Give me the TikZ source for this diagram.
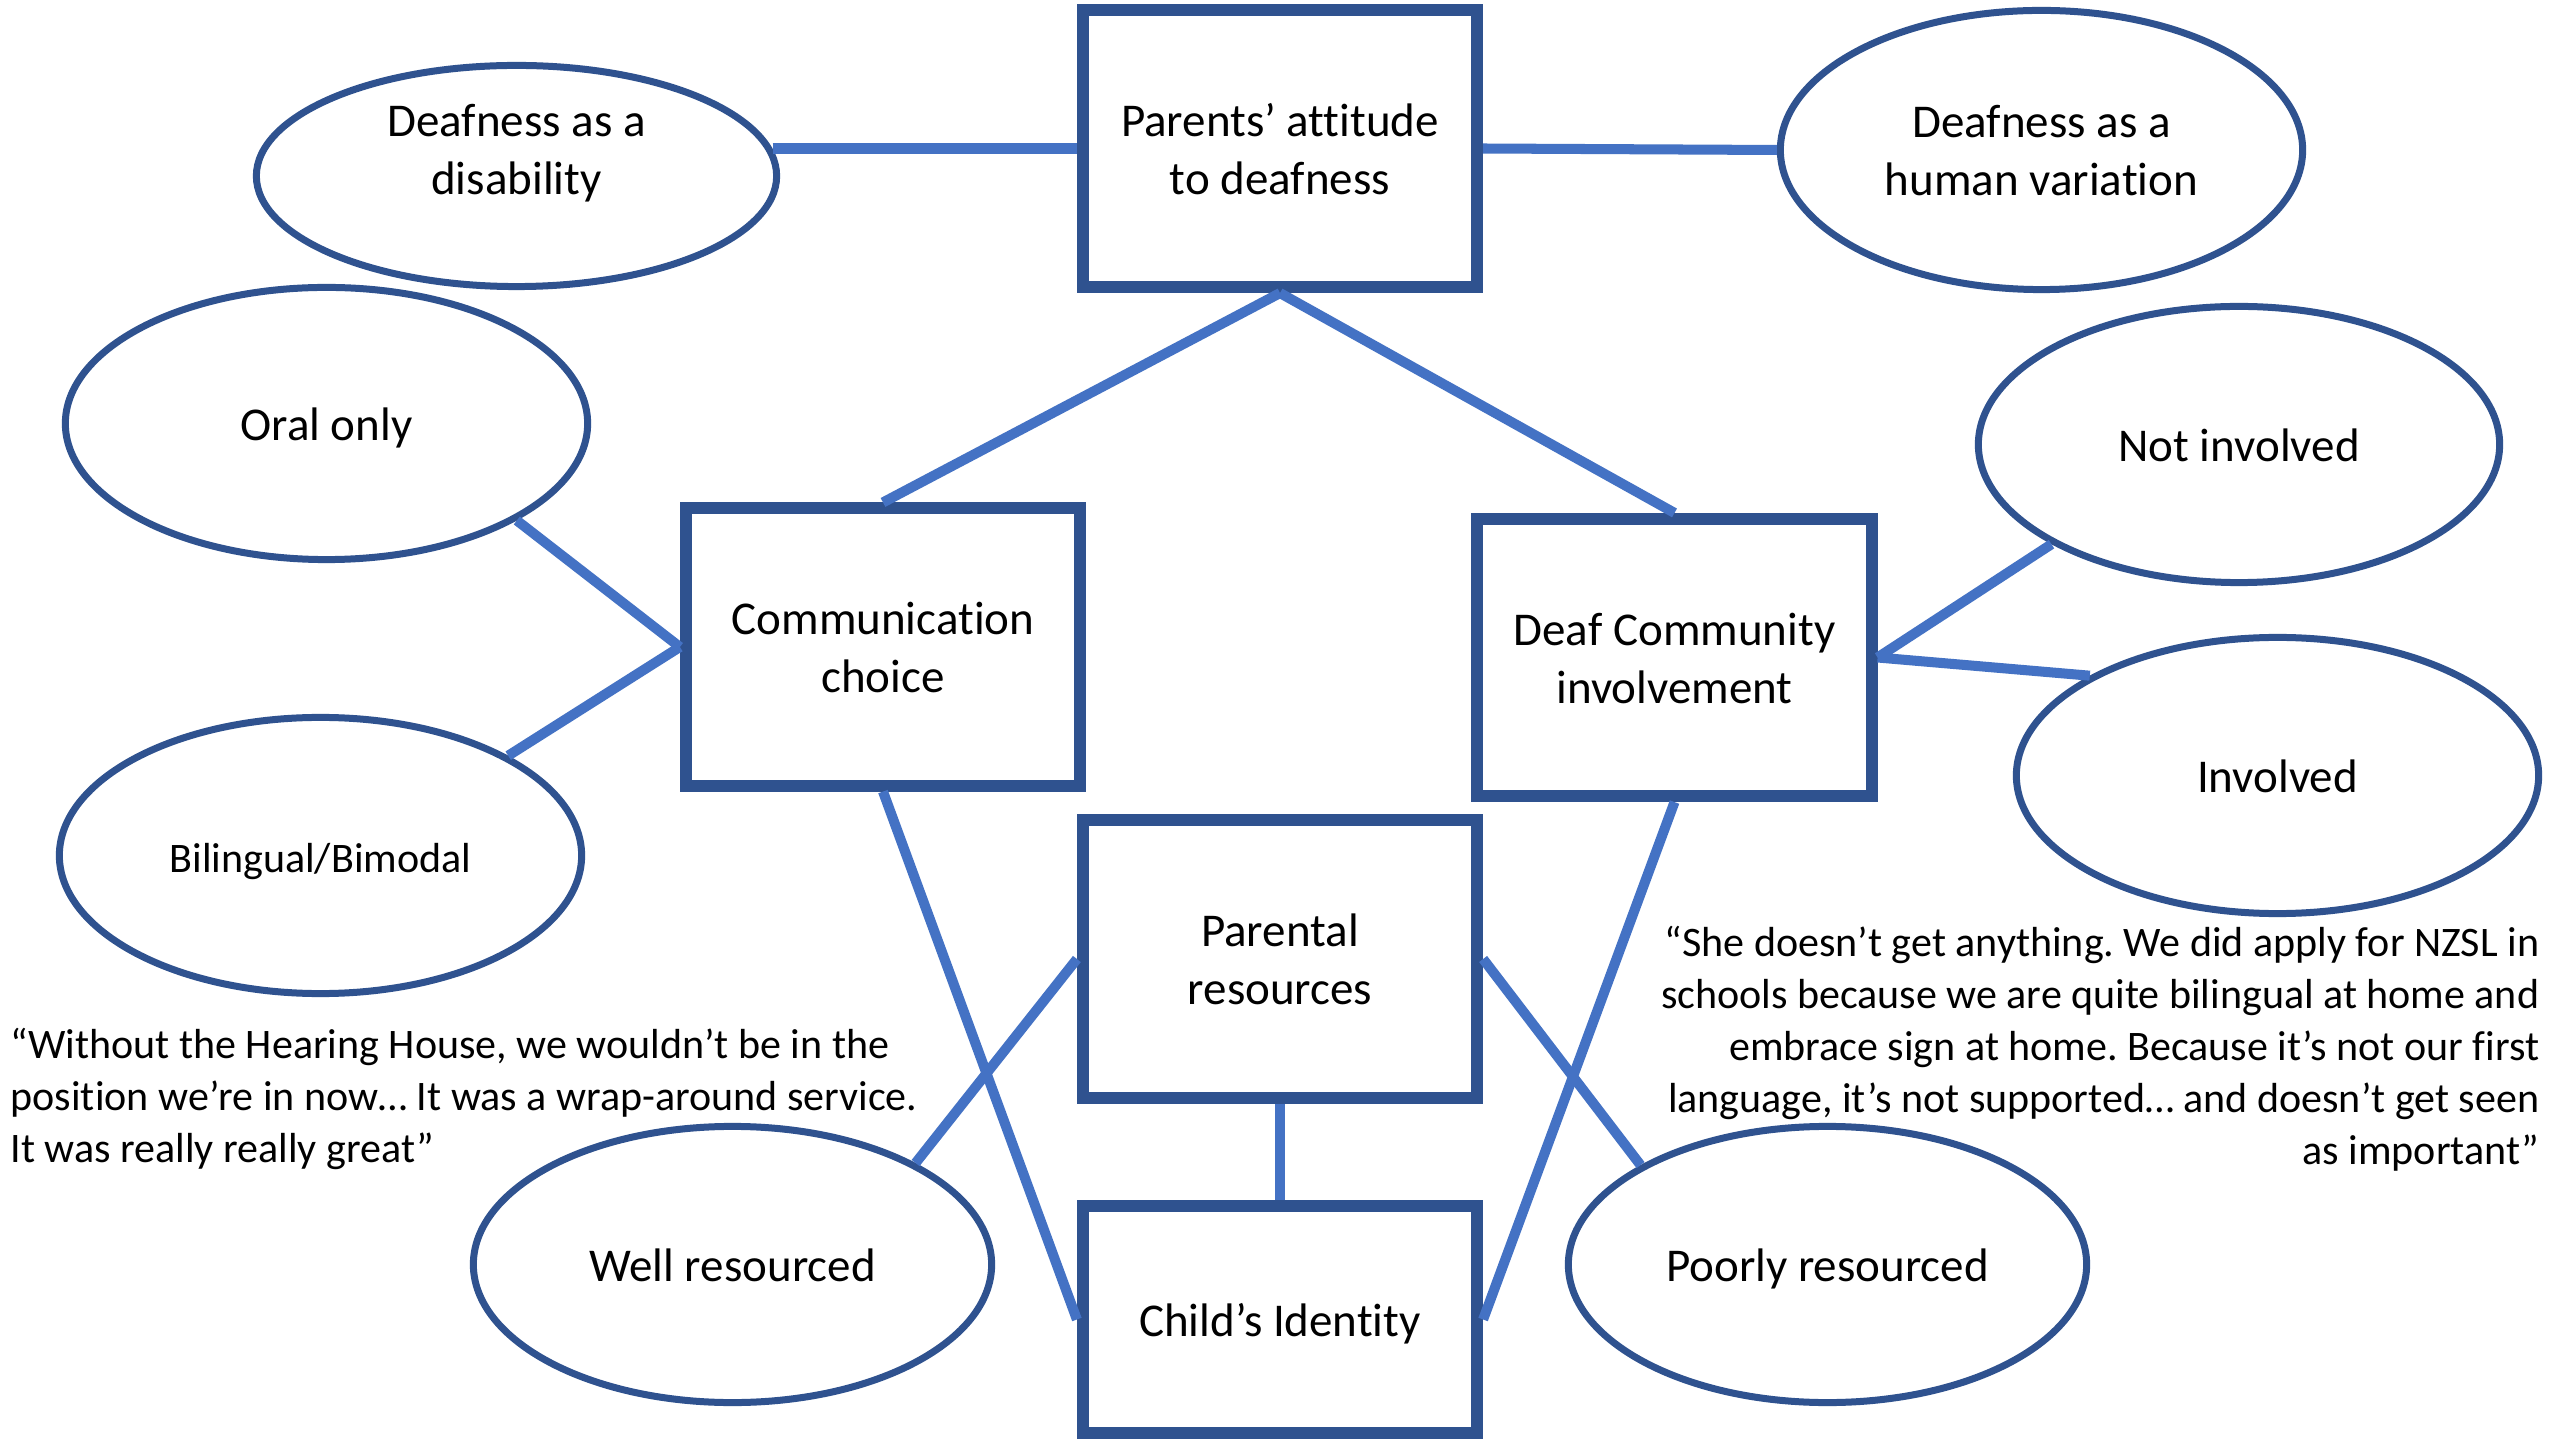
\documentclass[tikz,border=0pt]{standalone}
\usepackage{fontspec}
\setmainfont{Carlito}[Ligatures=NoCommon]
\usetikzlibrary{shapes.geometric}
\frenchspacing

\definecolor{edgeblue}{HTML}{2F528F}
\definecolor{linkblue}{HTML}{4472C4}

\newcommand\mainsize{\fontsize{13.37pt}{16.5pt}\selectfont}
\newcommand\quotesize{\fontsize{11.95pt}{14.8pt}\selectfont}
% fixed line box for labels: height on the first line, depth on the last
\newcommand\topline{\vrule height 14.4pt depth 0pt width 0pt}
\newcommand\botline{\vrule height 0pt depth 4.95pt width 0pt}

\tikzset{
  every node/.style={inner sep=0pt},
  concept/.style={rectangle, draw=edgeblue, fill=white, line width=3.41pt,
    minimum width=3.94cm, minimum height=2.77cm, align=center, font=\mainsize},
  oval/.style={ellipse, draw=edgeblue, fill=white, line width=1.99pt,
    minimum width=5.22cm, minimum height=2.76cm, align=center, font=\mainsize},
  link/.style={draw=linkblue, line width=2.85pt},
  quote/.style={font=\quotesize},
}

\begin{document}
\begin{tikzpicture}[x=0.01cm, y=-0.01cm]
  % page frame
  \fill[white] (0,0) rectangle (2560,1440);
  \useasboundingbox (0,0) rectangle (2560,1440);

  % central factors
  \node[concept] (parents) at (1280,148.5) {\topline Parents’ attitude\\to deafness\botline};
  \node[concept] (comm) at (883,647) {\topline Communication\\choice\botline};
  \node[concept] (deaf) at (1674.5,657.5) {\topline Deaf Community\\involvement\botline};
  \node[concept, minimum height=2.78cm] (res) at (1280,959) {\topline Parental\\resources\botline};
  \node[concept, minimum height=2.27cm] (child) at (1280,1319.5) {\topline Child’s Identity\botline};

  % options around each factor
  \node[oval, minimum width=5.20cm, minimum height=2.21cm] (dis) at (516.5,176) {};
  \node[font=\mainsize, align=center] (dis-label) at (516.5,149) {\topline Deafness as a\\disability\botline};
  \node[oval, minimum height=2.79cm] (hv) at (2041.5,150) {\topline Deafness as a\\human variation\botline};
  \node[oval, minimum height=2.72cm] (oral) at (326.5,423.5) {\topline Oral only\botline};
  \node[oval, font=\quotesize] (bil) at (320.5,855.5) {\topline Bilingual/Bimodal\botline};
  \node[oval, minimum width=5.21cm] (notinv) at (2239,444.5) {\topline Not involved\botline};
  \node[oval] (inv) at (2277.5,775.5) {\topline Involved\botline};
  \node[oval, minimum width=5.18cm] (well) at (732.5,1264.5) {\topline Well resourced\botline};
  \node[oval, minimum width=5.18cm] (poor) at (1827.5,1264.5) {\topline Poorly resourced\botline};

  % quotations
  \node[quote, anchor=west, align=left] (q-left) at (10,1100)
    {\strut “Without the Hearing House, we wouldn’t be in the\\
     position we’re in now… It was a wrap-around service.\\
     It was really really great”\strut};
  \node[quote, anchor=east, align=right] (q-right) at (2540,1050)
    {\strut “She doesn’t get anything. We did apply for NZSL in\\
     schools because we are quite bilingual at home and\\
     embrace sign at home. Because it’s not our first\\
     language, it’s not supported… and doesn’t get seen\\
     as important”\strut};

  % connectors
  \draw[link] (dis.6 |- parents.west) -- (parents.west);
  \draw[link] (parents.east) -- (hv.west);
  \draw[link] (parents.south) -- (comm.north);
  \draw[link] (parents.south) -- (deaf.north);
  \draw[link] (oral.-27) -- (comm.west);
  \draw[link] (bil.28) -- (comm.west);
  \draw[link] (deaf.east) -- (notinv.-152);
  \draw[link] (deaf.east) -- (inv.152);
  \draw[link] (comm.south) -- (child.west);
  \draw[link] (deaf.south) -- (child.east);
  \draw[link] (res.west) -- (well.29);
  \draw[link] (res.east) -- (poor.152);
  \draw[link] (res.south) -- (child.north);
\end{tikzpicture}
\end{document}
